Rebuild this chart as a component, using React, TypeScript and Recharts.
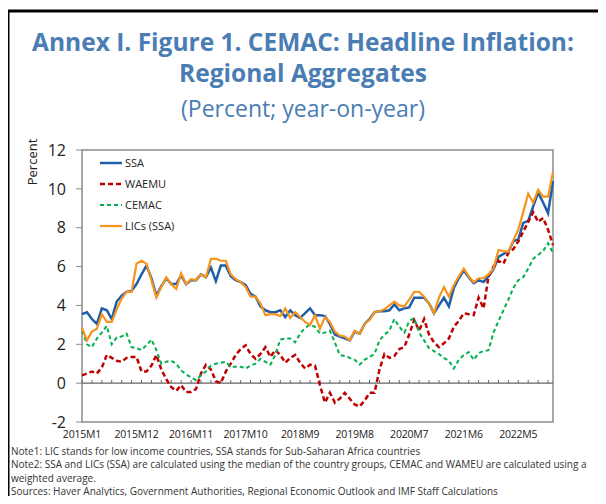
import React from 'react';
import { LineChart, Line, XAxis, YAxis, ReferenceLine, ReferenceArea, Legend } from 'recharts';

const years = [2015, 2016, 2017, 2018, 2019, 2020, 2021, 2022];
const months: string[] = [];
years.forEach((y) => {
  for (let m = 1; m <= 12; m++) months.push(`${y}M${m}`);
});

// percent, year-on-year, 2015M1 .. 2022M12
const ssa = [
  3.55, 3.65, 3.3, 3.05, 3.85, 3.75, 3.3, 4.2, 4.5, 4.7, 4.75, 5.1,
  5.6, 6.05, 5.4, 4.5, 5.0, 5.4, 5.1, 5.1, 5.55, 5.1, 5.3, 5.3,
  5.6, 5.45, 5.95, 5.25, 6.05, 6.05, 5.5, 5.3, 5.2, 5.05, 4.6, 4.45,
  3.95, 3.75, 3.65, 3.65, 3.75, 3.4, 3.75, 3.5, 3.35, 3.6, 3.85, 3.5,
  3.5, 3.45, 3.05, 2.5, 2.4, 2.3, 2.2, 2.65, 2.55, 3.05, 3.3, 3.65,
  3.7, 3.7, 3.75, 4.05, 3.75, 3.85, 3.9, 4.4, 4.4, 4.4, 4.1, 3.6,
  4.0, 4.4, 3.95, 4.9, 5.4, 5.8, 5.45, 5.15, 5.3, 5.2, 5.5, 5.85,
  6.5, 6.65, 6.75, 7.3, 7.4, 8.25, 8.35, 9.1, 9.8, 9.3, 8.75, 10.4,
];

const waemu = [
  0.4, 0.5, 0.6, 0.5, 0.8, 1.45, 1.3, 1.15, 1.1, 1.3, 1.35, 1.35,
  0.6, 0.6, 0.9, 1.45, 0.7, 0.2, -0.2, -0.4, -0.1, -0.45, -0.45, -0.3,
  0.5, 0.95, 0.7, 0.1, 0.0, 0.6, 1.0, 1.45, 1.75, 1.95, 1.5, 1.25,
  1.5, 1.85, 1.35, 1.7, 1.45, 1.05, 1.3, 1.45, 1.05, 0.75, 0.95, 0.9,
  -0.1, -1.0, -0.5, -1.0, -0.8, -0.5, -0.8, -1.1, -1.2, -0.9, -0.5, -0.5,
  0.7, 1.5, 1.3, 1.4, 1.75, 1.85, 2.5, 3.25, 2.7, 3.3, 2.5, 2.1,
  1.85, 2.05, 2.3, 2.9, 3.2, 3.6, 3.55, 3.5, 4.4, 3.85, 5.5, 6.0,
  6.3, 6.15, 6.7, 6.9, 7.3, 7.8, 8.3, 8.8, 8.3, 8.5, 7.9, 7.1,
];

const cemac = [
  2.7, 2.0, 1.85, 2.3, 2.6, 2.95, 2.0, 2.35, 2.4, 2.55, 1.85, 1.8,
  1.7, 1.95, 2.25, 1.7, 1.0, 1.1, 1.15, 1.0, 0.65, 0.45, 0.3, 0.15,
  0.4, 0.6, 0.9, 1.0, 1.05, 1.1, 0.85, 0.85, 0.85, 0.75, 0.9, 1.0,
  1.25, 1.1, 0.95, 1.45, 2.25, 2.3, 2.3, 2.1, 2.55, 2.85, 3.0, 2.9,
  2.55, 2.6, 2.7, 2.1, 1.45, 1.4, 1.3, 1.2, 0.95, 1.2, 1.35, 1.5,
  2.2, 2.5, 2.7, 3.3, 2.9, 2.6, 3.2, 3.35, 2.6, 2.2, 1.8, 1.65,
  1.5, 1.3, 1.15, 0.75, 1.2, 1.45, 1.6, 1.2, 1.55, 1.65, 1.7, 2.6,
  3.2, 3.75, 4.3, 4.9, 5.3, 5.45, 5.9, 6.4, 6.6, 6.8, 7.2, 6.7,
];

const lics = [
  2.85, 2.2, 2.65, 2.8, 3.55, 3.15, 3.15, 3.8, 4.35, 4.7, 4.7, 6.15,
  6.3, 6.15, 5.3, 4.4, 4.95, 5.45, 5.1, 4.85, 5.65, 5.1, 5.35, 5.3,
  5.6, 5.45, 6.4, 6.4, 6.3, 6.3, 5.6, 5.35, 5.2, 4.95, 4.45, 4.45,
  4.1, 3.5, 3.55, 3.55, 3.45, 3.85, 3.35, 3.65, 3.4, 3.15, 3.0, 3.5,
  2.8, 3.4, 3.15, 2.65, 2.45, 2.4, 2.2, 2.7, 2.55, 3.05, 3.25, 3.65,
  3.7, 3.8, 4.0, 4.2, 4.0, 3.95, 4.3, 4.7, 4.7, 4.45, 4.1, 3.6,
  4.4, 4.95, 4.45, 5.05, 5.5, 5.9, 5.5, 5.2, 5.4, 5.4, 5.6, 5.9,
  6.85, 6.8, 6.75, 7.35, 7.9, 8.8, 9.75, 9.3, 9.95, 9.6, 9.6, 10.85,
];

const xTicks = months.filter((_, i) => i % 11 === 0);
const minorTicks = months.filter((_, i) => i % 2 === 0);
const yTicks = [-2, 0, 2, 4, 6, 8, 10, 12];
const legendOrder = ['ssa', 'waemu', 'cemac', 'lics'];

const data = months.map((m, i) => ({
  month: m,
  ssa: ssa[i],
  waemu: waemu[i],
  cemac: cemac[i],
  lics: lics[i],
}));

const styles: Record<string, { color: string; width: number; dash?: string }> = {
  ssa: { color: '#1f5ea8', width: 2.5 },
  waemu: { color: '#c00000', width: 2.5, dash: '5 3' },
  cemac: { color: '#00b050', width: 2, dash: '4 3' },
  lics: { color: '#f7941d', width: 2.2 },
};

const font = '"Open Sans", sans-serif';
const titleColor = '#4a7db4';

function LegendBox({ payload }: any) {
  const items = legendOrder
    .map((k) => (payload || []).find((p: any) => p.dataKey === k))
    .filter(Boolean);
  return (
    <div style={{ width: 110 }}>
      {items.map((p: any) => {
        const st = styles[p.dataKey];
        return (
          <div key={p.dataKey} style={{ display: 'flex', alignItems: 'center', height: 21 }}>
            <svg width={22} height={8} style={{ flex: 'none' }}>
              <line x1={0} y1={4} x2={22} y2={4} stroke={st.color} strokeWidth={st.width} strokeDasharray={st.dash} />
            </svg>
            <span style={{ fontSize: 11, marginLeft: 3, color: '#222', fontFamily: font, whiteSpace: 'nowrap' }}>{p.value}</span>
          </div>
        );
      })}
    </div>
  );
}

export default function App() {
  return (
    <div style={{ position: 'relative', width: 606, height: 504, margin: -8, overflow: 'hidden', background: '#fff', fontFamily: font }}>
      <div style={{ position: 'absolute', left: 0, width: 606, top: 26, textAlign: 'center', fontSize: 24.5, fontWeight: 700, color: titleColor, lineHeight: '31px' }}>
        Annex I. Figure 1. CEMAC: Headline Inflation:
        <br />
        Regional Aggregates
      </div>
      <div style={{ position: 'absolute', left: 0, width: 606, top: 93, textAlign: 'center', fontSize: 23, color: titleColor, lineHeight: '30px' }}>
        (Percent; year-on-year)
      </div>

      <div style={{ position: 'absolute', left: 0, top: 0 }}>
        <LineChart width={606} height={450} data={data} margin={{ top: 150, right: 53, left: 22, bottom: 8 }}>
          <ReferenceArea x1={months[0]} x2={months[months.length - 1]} y1={-2} y2={12} stroke="#8c8c8c" strokeWidth={1.5} fill="none" />
          <ReferenceLine y={0} stroke="#666" strokeWidth={1.2} />
          {minorTicks.map((m) => (
            <ReferenceLine key={m} segment={[{ x: m, y: 0 }, { x: m, y: 0.16 }]} stroke="#666" strokeWidth={1} />
          ))}
          <XAxis
            dataKey="month"
            ticks={xTicks}
            interval={0}
            height={20}
            axisLine={false}
            tickLine={false}
            tickSize={0}
            tickMargin={9}
            tick={{ fontSize: 10.5, fill: '#222', fontFamily: font, letterSpacing: -0.2 }}
          />
          <YAxis
            domain={[-2, 12]}
            ticks={yTicks}
            width={60}
            axisLine={false}
            tickLine={{ stroke: '#8c8c8c' }}
            tickSize={6}
            tickMargin={10}
            tick={{ fontSize: 16, fill: '#222', fontFamily: font }}
          />
          <Legend
            layout="vertical"
            verticalAlign="middle"
            align="center"
            content={<LegendBox />}
            wrapperStyle={{ left: 100, top: 152, width: 110 }}
          />
          <Line dataKey="ssa" name="SSA" stroke={styles.ssa.color} strokeWidth={styles.ssa.width} dot={false} isAnimationActive={false} />
          <Line dataKey="waemu" name="WAEMU" stroke={styles.waemu.color} strokeWidth={styles.waemu.width} strokeDasharray={styles.waemu.dash} dot={false} isAnimationActive={false} />
          <Line dataKey="cemac" name="CEMAC" stroke={styles.cemac.color} strokeWidth={styles.cemac.width} strokeDasharray={styles.cemac.dash} dot={false} isAnimationActive={false} />
          <Line dataKey="lics" name="LICs (SSA)" stroke={styles.lics.color} strokeWidth={styles.lics.width} dot={false} isAnimationActive={false} />
        </LineChart>
      </div>

      <svg style={{ position: 'absolute', left: 0, top: 0, pointerEvents: 'none' }} width={606} height={504}>
        <text x={0} y={0} transform="translate(37,162) rotate(-90)" textAnchor="middle" fontSize={13} fill="#222" fontFamily={font}>
          Percent
        </text>
        <line x1={8} y1={11} x2={8} y2={504} stroke="#000" strokeWidth={3} />
        <line x1={8} y1={11} x2={603} y2={11} stroke="#000" strokeWidth={3} />
        <line x1={602} y1={11} x2={602} y2={504} stroke="#000" strokeWidth={3} />
      </svg>

      <div style={{ position: 'absolute', left: 11, top: 445, fontSize: 10, lineHeight: '13.3px', color: '#333', whiteSpace: 'nowrap' }}>
        Note1: LIC stands for low income countries, SSA stands for Sub-Saharan Africa countries
        <br />
        Note2: SSA and LICs (SSA) are calculated using the median of the country groups, CEMAC and WAMEU are calculated using a
        <br />
        weighted average.
        <br />
        Sources: Haver Analytics, Government Authorities, Regional Economic Outlook and IMF Staff Calculations
      </div>
    </div>
  );
}
